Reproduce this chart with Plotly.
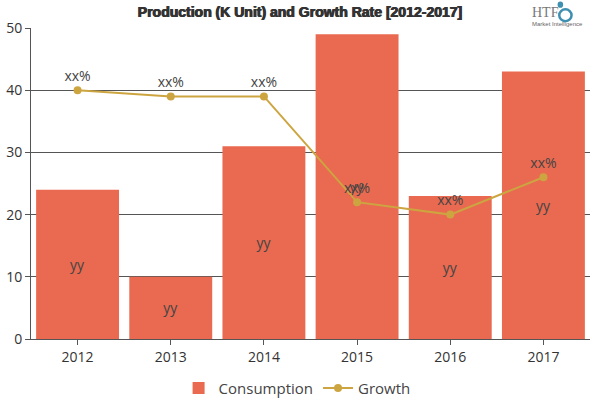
import plotly.graph_objects as go

years = ["2012", "2013", "2014", "2015", "2016", "2017"]
consumption = [24, 10, 31, 49, 23, 43]
growth = [40, 39, 39, 22, 20, 26]
bar_labels = ["yy"] * 6
line_labels = ["xx%"] * 6
y_ticks = [0, 10, 20, 30, 40, 50]

fig = go.Figure()
fig.add_bar(x=years, y=consumption, name="Consumption", marker_color="#E96A50",
            marker_line_width=0,
            text=bar_labels, textposition="inside", insidetextanchor="middle",
            textangle=0, textfont=dict(color="#444444", size=14), width=0.89)
fig.add_scatter(x=years, y=growth, name="Growth", mode="lines+markers+text",
                line=dict(color="#CDA540", width=2), marker=dict(size=8, color="#CDA540"),
                text=line_labels, textposition="top center",
                textfont=dict(color="#444444", size=14))

logo_color = "#3E8FB0"
fig.update_layout(
    width=600, height=400, autosize=False,
    margin=dict(l=31, r=10, t=28, b=61, autoexpand=False),
    paper_bgcolor="white", plot_bgcolor="white",
    font=dict(family="Open Sans, Noto Sans, sans-serif", color="#333333", size=14),
    title=dict(text="<b>Production (K Unit) and Growth Rate [2012-2017]</b>",
               x=0.5, xanchor="center", y=0.97, yanchor="middle",
               font=dict(family="Liberation Sans", size=14, color="#333333",
                         shadow="0.5px 0 0 #333333, -0.5px 0 0 #333333")),
    legend=dict(orientation="h", x=0.476, xanchor="center", y=-0.105, yanchor="top",
                font=dict(size=15, color="#444444"), itemwidth=30),
    bargap=0.1, showlegend=True,
    xaxis=dict(showline=True, linecolor="#555555", ticks="outside", ticklen=5, automargin=False,
               tickcolor="#555555", tickfont=dict(size=14, color="#333333")),
    yaxis=dict(range=[0, 50], tickvals=y_ticks, showgrid=True, gridcolor="#555555", automargin=False,
               gridwidth=1, showline=True, linecolor="#555555", ticks="outside",
               ticklen=5, tickcolor="#555555", tickfont=dict(size=14, color="#333333"),
               zeroline=False),
    annotations=[
        dict(text="HTF", xref="paper", yref="paper", x=0.893, y=1.05, xanchor="left",
             yanchor="middle", showarrow=False,
             font=dict(family="Liberation Serif", size=14, color="#777777")),
        dict(text="Market Intelligence", xref="paper", yref="paper", x=0.893, y=1.013,
             xanchor="left", yanchor="middle", showarrow=False,
             font=dict(family="Liberation Sans", size=6, color="#666666")),
    ],
    shapes=[
        dict(type="circle", xref="paper", yref="paper", x0=0.945, x1=0.967, y0=1.022, y1=1.06,
             line=dict(color=logo_color, width=2.5)),
        dict(type="circle", xref="paper", yref="paper", x0=0.942, x1=0.952, y0=1.065, y1=1.085,
             fillcolor=logo_color, line=dict(width=0)),
    ],
)
fig.write_html("out.html", post_script="document.body.style.margin='0';",
               config={"displayModeBar": False})
